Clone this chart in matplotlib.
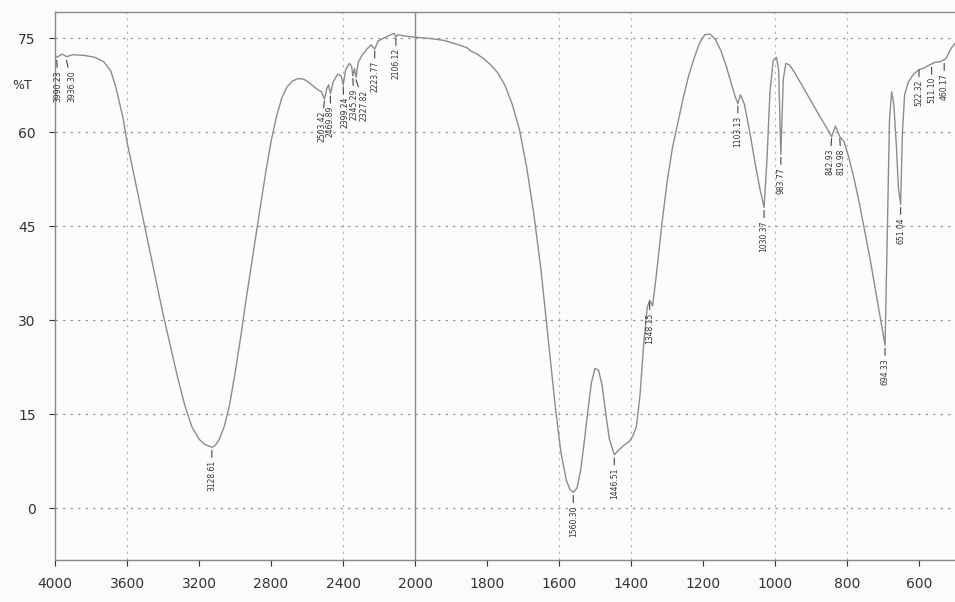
import matplotlib
matplotlib.use("Agg")
import matplotlib.pyplot as plt
import numpy as np

# IR spectrum (wavenumber cm-1, %T)
wavenumber = [4000, 3990, 3960, 3936, 3900, 3840, 3780, 3730, 3690, 3660, 3640, 3620, 3600,
              3560, 3520, 3480, 3440, 3400, 3360, 3320, 3280, 3240, 3200, 3170, 3145, 3128.61,
              3110, 3090, 3060, 3030, 3000, 2970, 2940, 2900, 2860, 2830, 2800, 2770, 2740,
              2710, 2680, 2650, 2620, 2600, 2570, 2540, 2520, 2503.42, 2490, 2480, 2469.89,
              2455, 2430, 2410, 2399.24, 2385, 2365, 2352, 2345.29, 2336, 2327.82, 2315, 2295,
              2270, 2245, 2223.77, 2205, 2170, 2135, 2115, 2106.12, 2095, 2060, 2030, 2000,
              1960, 1920, 1880, 1855, 1845, 1830, 1810, 1790, 1770, 1750, 1730, 1710, 1690,
              1670, 1650, 1630, 1610, 1595, 1580, 1570, 1560.30, 1550, 1540, 1530, 1520, 1510,
              1500, 1490, 1480, 1470, 1460, 1446.51, 1435, 1420, 1405, 1395, 1385, 1375, 1365,
              1355, 1348.15, 1340, 1330, 1315, 1300, 1285, 1270, 1255, 1240, 1225, 1210, 1195,
              1180, 1165, 1150, 1135, 1120, 1110, 1103.13, 1096, 1085, 1070, 1055, 1042,
              1030.37, 1022, 1014, 1005, 996, 990, 983.77, 977, 970, 960, 945, 925, 900, 875,
              855, 842.93, 832, 819.98, 808, 795, 780, 765, 750, 735, 720, 705, 694.33, 688,
              682, 676, 670, 663, 657, 651.04, 646, 640, 630, 615, 600, 585, 570, 555, 540,
              525, 510, 500]
transmittance = [72.3, 72.0, 72.5, 72.1, 72.4, 72.3, 72.0, 71.3, 69.8, 67.0, 64.5, 62.0, 58.5,
                 53.0, 47.5, 42.0, 36.5, 31.0, 26.0, 21.0, 16.5, 13.0, 11.0, 10.2, 9.9, 9.7,
                 10.0, 10.8, 13.0, 16.5, 21.5, 27.0, 33.0, 40.5, 48.0, 53.5, 58.5, 62.5, 65.5,
                 67.3, 68.2, 68.6, 68.5, 68.2, 67.5, 66.8, 66.5, 65.3, 67.0, 67.6, 66.2, 68.0,
                 69.3, 69.0, 67.6, 70.0, 71.0, 70.6, 69.0, 70.2, 68.8, 71.2, 72.3, 73.2, 74.0,
                 73.3, 74.6, 75.1, 75.6, 75.8, 75.2, 75.6, 75.4, 75.3, 75.2, 75.0, 74.7, 74.0,
                 73.5, 73.0, 72.6, 71.8, 70.8, 69.5, 67.5, 64.5, 60.5, 54.5, 47.0, 38.0, 27.0,
                 16.0, 9.0, 4.5, 3.0, 2.5, 3.2, 6.0, 10.5, 15.5, 20.0, 22.3, 22.0, 19.5, 15.0,
                 11.0, 8.5, 9.2, 10.0, 10.6, 11.5, 13.0, 18.0, 26.0, 32.0, 33.2, 32.3, 37.0, 45.0,
                 52.0, 57.5, 61.5, 65.5, 69.0, 71.8, 74.2, 75.6, 75.7, 74.8, 73.0, 70.5, 67.5,
                 65.6, 64.6, 66.0, 64.5, 60.0, 55.0, 51.0, 48.0, 56.0, 66.5, 71.5, 72.0, 70.0,
                 56.5, 68.5, 71.0, 70.8, 69.5, 67.5, 65.0, 62.5, 60.6, 59.3, 61.0, 59.3, 58.5,
                 56.0, 52.5, 48.5, 44.0, 39.5, 34.5, 29.5, 26.0, 44.0, 62.0, 66.5, 64.5, 58.0,
                 51.0, 48.5, 60.0, 66.0, 68.0, 69.3, 70.0, 70.3, 70.8, 71.2, 71.3, 71.8, 73.5,
                 74.2]

# peak labels: printed value, position on chart, %T where the label line starts
peak_text = ["3990.23", "3936.30", "3128.61", "2503.42", "2469.89", "2399.24", "2345.29",
             "2327.82", "2223.77", "2106.12", "1560.30", "1446.51", "1348.15", "1103.13",
             "1030.37", "983.77", "842.93", "819.98", "694.33", "651.04", "522.32", "511.10",
             "460.17"]
peak_x = [3990.23, 3936.30, 3128.61, 2503.42, 2469.89, 2399.24, 2345.29, 2327.82, 2223.77,
          2106.12, 1560.30, 1446.51, 1348.15, 1103.13, 1030.37, 983.77, 842.93, 819.98,
          694.33, 651.04, 600, 565, 530]
peak_y = [71.5, 71.5, 9.2, 65.0, 65.8, 67.2, 68.6, 68.4, 73.0, 75.0, 2.0, 8.0, 32.8, 64.2,
          47.5, 56.0, 59.0, 59.0, 25.5, 48.0, 70.0, 70.4, 71.0]
# small sideways nudges (points) so neighbouring labels do not sit on each other
label_dx = [1, 4, 0, -2, 0, 1, 1, 6, 0, 0, 0, 0, 0, 0, 0, 0, -1, 1, 0, 0, 0, 0, 0]

xticks = [4000, 3600, 3200, 2800, 2400, 2000, 1800, 1600, 1400, 1200, 1000, 800, 600]
yticks = [0, 15, 30, 45, 60, 75]


# chart paper: 2000-4000 at half the scale of 500-2000
def forward(x):
    x = np.asarray(x, dtype=float)
    return np.where(x >= 2000, 3000 + (x - 2000), 2 * (x - 500))


def inverse(u):
    u = np.asarray(u, dtype=float)
    return np.where(u >= 3000, 2000 + (u - 3000), 500 + u / 2)


fig = plt.figure(figsize=(9.55, 6.02), dpi=100)
fig.patch.set_facecolor("#fbfbfa")
ax = fig.add_axes([0.0576, 0.0698, 0.9424, 0.910])
ax.set_facecolor("#fcfcfb")
ax.set_xscale("function", functions=(forward, inverse))
ax.set_xlim(4000, 500)
ax.set_ylim(-8.3, 79.2)

for v in yticks:
    ax.axhline(v, color="#9a9a9a", lw=0.9, ls=(0, (2, 4)), zorder=1)
for v in [3600, 2400, 1600, 1400, 1000, 800]:
    ax.axvline(v, color="#b0b0b0", lw=0.8, ls=(0, (2, 4)), zorder=1)
ax.axvline(2000, color="#8a8a8a", lw=1.0, zorder=1)

ax.plot(wavenumber, transmittance, color="#8c8c8c", lw=1.0, zorder=3)

for t, px, py, dx in zip(peak_text, peak_x, peak_y, label_dx):
    ax.annotate(t, xy=(px, py), xytext=(dx, -7), textcoords="offset points",
                rotation=90, ha="center", va="top", fontsize=5.5, color="#333333",
                arrowprops=dict(arrowstyle="-", color="#444444", lw=0.8,
                                shrinkA=0, shrinkB=0), zorder=4)

ax.set_xticks(xticks)
ax.set_xticklabels([str(v) for v in xticks])
ax.set_yticks(yticks)
ax.set_yticklabels([str(v) for v in yticks])
ax.tick_params(axis="both", labelsize=10, colors="#333333", length=4, width=0.8)
ax.tick_params(axis="x", pad=8)
ax.tick_params(axis="y", pad=10)

for side in ["left", "bottom", "top"]:
    ax.spines[side].set_color("#888888")
    ax.spines[side].set_linewidth(1.0)
ax.spines["right"].set_visible(False)

ax.text(-0.048, 0.866, "%T", transform=ax.transAxes, fontsize=9, color="#333333",
        ha="left", va="center")

fig.savefig("out.png", dpi=100, facecolor=fig.get_facecolor())
